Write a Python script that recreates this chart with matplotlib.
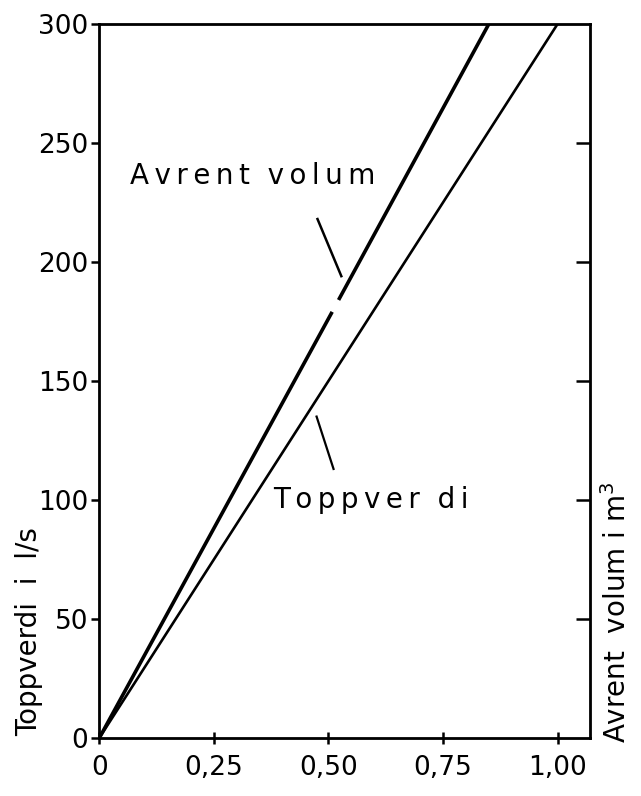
import matplotlib.pyplot as plt
import numpy as np

plt.rcParams['font.family'] = ['DejaVu Sans']

# avrent volum line (drawn in two parts, the scan has a small gap near 0.5)
avrent_x1 = [0.0, 0.508]
avrent_y1 = [0.0, 179.0]
avrent_x2 = [0.522, 0.85]
avrent_y2 = [184.0, 300.0]
# toppverdi line
topp_x = [0.0, 1.0]
topp_y = [0.0, 300.0]

xticks = [0, 0.25, 0.50, 0.75, 1.00]
xlabels = ["0", "0,25", "0,50", "0,75", "1,00"]
yticks = [0, 50, 100, 150, 200, 250, 300]


def spaced(s, gap="  "):
    # typewriter look: thin space between letters, wider gap between words
    return gap.join("\u2009".join(w) for w in s.split())


fig = plt.figure(figsize=(6.41, 7.96), dpi=100)
ax = fig.add_axes([0.155, 0.073, 0.765, 0.897])

ax.plot(avrent_x1, avrent_y1, color="black", lw=2.6, solid_capstyle="butt")
ax.plot(avrent_x2, avrent_y2, color="black", lw=2.6, solid_capstyle="butt")
ax.plot(topp_x, topp_y, color="black", lw=1.9)

ax.set_xlim(0, 1.07)
ax.set_ylim(0, 300)

ax.set_xticks(xticks)
ax.set_xticklabels(xlabels)
ax.set_yticks(yticks)
ax.tick_params(axis="x", direction="inout", length=8, width=1.8, labelsize=19, pad=8)
ax.tick_params(axis="y", direction="out", length=6, width=1.8, labelsize=19, pad=2)
for s in ax.spines.values():
    s.set_linewidth(2.0)

# right side ticks, no labels
ax2 = ax.twinx()
ax2.set_ylim(0, 300)
ax2.set_yticks([50, 100, 150, 200, 250])
ax2.tick_params(axis="y", direction="in", length=10, width=1.8, labelright=False)

# labels on the lines
ax.text(0.066, 236, spaced("Avrent volum", "  "), fontsize=20, ha="left", va="center")
ax.plot([0.476, 0.528], [218, 194], color="black", lw=1.8)
ax.text(0.38, 100, spaced("Toppver di", "  "), fontsize=20, ha="left", va="center")
ax.plot([0.474, 0.511], [135, 113], color="black", lw=1.6)

fig.text(0.045, 0.075, "Toppverdi  i  l/s", rotation=90, fontsize=20,
         ha="center", va="bottom")
fig.text(0.963, 0.066, "Avrent  volum i m$^3$", rotation=90, fontsize=20,
         ha="center", va="bottom")

fig.savefig("out.png", dpi=100)
